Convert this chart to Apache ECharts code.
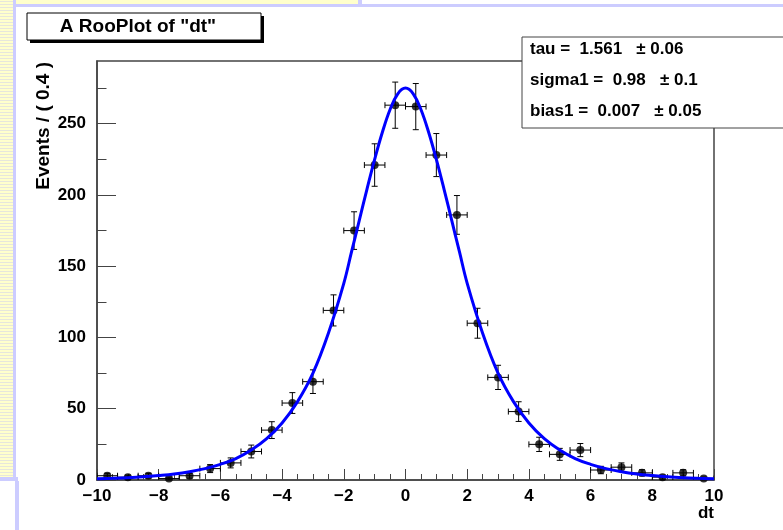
<!DOCTYPE html>
<html>
<head>
<meta charset="utf-8">
<script src="https://cdn.jsdelivr.net/npm/echarts@6/dist/echarts.min.js"></script>
<style>
  html, body { margin: 0; padding: 0; background: #fff; }
  #chart { width: 783px; height: 530px; }
</style>
</head>
<body>
<div id="chart"></div>
<script>
// bins of dt (centres), event counts and their errors
const binCenters = [-9.667, -9, -8.333, -7.667, -7, -6.333, -5.667, -5, -4.333, -3.667,
  -3, -2.333, -1.667, -1, -0.333, 0.333, 1, 1.667, 2.333, 3,
  3.667, 4.333, 5, 5.667, 6.333, 7, 7.667, 8.333, 9, 9.667];
const counts = [3, 2, 3, 1, 3, 8, 12, 20, 35, 54,
  69, 119, 175, 221, 263, 262, 228, 186, 110, 72,
  48, 25, 18, 21, 7, 9, 5, 2, 5, 1];
const countErr = [1.7, 1.4, 1.7, 1, 1.7, 2.8, 3.5, 4.5, 5.9, 7.3,
  8.3, 10.9, 13.2, 14.9, 16.2, 16.2, 15.1, 13.6, 10.5, 8.5,
  6.9, 5, 4.2, 4.6, 2.6, 3, 2.2, 1.4, 2.2, 1];
const binHalfWidth = 0.333;

// fitted curve
const curveX = [-10, -9.5, -9, -8.5, -8, -7.5, -7, -6.5, -6, -5.5, -5, -4.5, -4, -3.5, -3, -2.5,
  -2, -1.75, -1.5, -1.25, -1, -0.75, -0.5, -0.25, 0, 0.25, 0.5, 0.75, 1, 1.25, 1.5, 1.75,
  2, 2.5, 3, 3.5, 4, 4.5, 5, 5.5, 6, 6.5, 7, 7.5, 8, 8.5, 9, 9.5, 10];
const curveY = [0.9, 1.2, 1.6, 2.2, 3.1, 4.2, 5.8, 8, 11, 15, 21, 29, 40, 55, 75, 103,
  138, 160, 182, 204, 225, 244, 260, 271, 275, 271, 260, 244, 225, 204, 182, 160,
  138, 103, 75, 55, 40, 29, 21, 15, 11, 8, 5.8, 4.2, 3.1, 2.2, 1.6, 1.2, 0.9];

const yMajor = [0, 50, 100, 150, 200, 250];
const yMinor = [25, 75, 125, 175, 225, 275];

const statLines = ['tau =  1.561   \u00b1 0.06', 'sigma1 =  0.98   \u00b1 0.1', 'bias1 =  0.007   \u00b1 0.05'];

const font = 'Liberation Sans';
const axisGray = '#444';
const yellow = '#ffffcc';
const lavender = '#ccccff';

let chart = echarts.init(document.getElementById('chart'));

// page decoration around the plot (yellow lined strip, lavender rules)
let decor = [
  {type: 'rect', shape: {x: 0, y: 0, width: 13, height: 477}, style: {fill: yellow}},
  {type: 'rect', shape: {x: 13, y: 0, width: 345, height: 4}, style: {fill: yellow}},
  {type: 'rect', shape: {x: 13, y: 4, width: 770, height: 3}, style: {fill: lavender}},
  {type: 'rect', shape: {x: 358, y: 0, width: 4, height: 7}, style: {fill: lavender}},
  {type: 'rect', shape: {x: 13, y: 0, width: 3, height: 480}, style: {fill: lavender}},
  {type: 'rect', shape: {x: 0, y: 477, width: 18, height: 4}, style: {fill: lavender}},
  {type: 'rect', shape: {x: 15, y: 481, width: 4, height: 49}, style: {fill: lavender}}
];
for (let y = 1; y < 477; y += 3) {
  decor.push({type: 'rect', shape: {x: 0, y: y, width: 13, height: 1}, style: {fill: '#e6e6dc'}});
}

let option = {
  animation: false,
  backgroundColor: '#fff',
  grid: {
    left: 97, right: 69, top: 61, bottom: 50,
    show: true, borderColor: axisGray, borderWidth: 1.5, backgroundColor: '#fff'
  },
  xAxis: {
    type: 'value', min: -10, max: 10, interval: 2,
    axisLine: {onZero: false, lineStyle: {color: axisGray, width: 1.5}},
    axisTick: {inside: true, length: 11, lineStyle: {color: axisGray}},
    minorTick: {show: true, splitNumber: 4, length: 6, lineStyle: {color: axisGray}},
    splitLine: {show: false},
    axisLabel: {
      margin: 8, fontSize: 17, fontWeight: 'bold', color: '#000', fontFamily: font,
      formatter: v => String(v).replace('-', '\u2212')
    }
  },
  yAxis: [
    {
      type: 'value', min: 0, max: 294, position: 'left',
      axisLine: {show: true, onZero: false, lineStyle: {color: axisGray, width: 1.5}},
      axisTick: {show: true, inside: true, length: 19, customValues: yMajor, lineStyle: {color: axisGray}},
      splitLine: {show: false},
      axisLabel: {
        margin: 11, fontSize: 17, fontWeight: 'bold', color: '#000', fontFamily: font,
        customValues: yMajor
      }
    },
    {
      type: 'value', min: 0, max: 294, position: 'left', offset: 0,
      axisLine: {show: false, onZero: false},
      axisTick: {show: true, inside: true, length: 9.5, customValues: yMinor, lineStyle: {color: axisGray}},
      splitLine: {show: false},
      axisLabel: {show: false}
    }
  ],
  series: [
    {
      type: 'custom',
      clip: true,
      z: 2,
      data: binCenters.map((x, i) => [x, counts[i], binHalfWidth, countErr[i]]),
      renderItem: function (params, api) {
        let x = api.value(0), y = api.value(1), ex = api.value(2), ey = api.value(3);
        let l = api.coord([x - ex, y]), r = api.coord([x + ex, y]);
        let lo = api.coord([x, y - ey]), hi = api.coord([x, y + ey]);
        let cap = 3;
        let st = {stroke: '#000', lineWidth: 1};
        return {
          type: 'group',
          children: [
            {type: 'line', shape: {x1: l[0], y1: l[1], x2: r[0], y2: r[1]}, style: st},
            {type: 'line', shape: {x1: l[0], y1: l[1] - cap, x2: l[0], y2: l[1] + cap}, style: st},
            {type: 'line', shape: {x1: r[0], y1: r[1] - cap, x2: r[0], y2: r[1] + cap}, style: st},
            {type: 'line', shape: {x1: lo[0], y1: lo[1], x2: hi[0], y2: hi[1]}, style: st},
            {type: 'line', shape: {x1: lo[0] - cap, y1: lo[1], x2: lo[0] + cap, y2: lo[1]}, style: st},
            {type: 'line', shape: {x1: hi[0] - cap, y1: hi[1], x2: hi[0] + cap, y2: hi[1]}, style: st}
          ]
        };
      }
    },
    {
      type: 'scatter',
      z: 3,
      symbolSize: 8,
      itemStyle: {color: '#000'},
      data: binCenters.map((x, i) => [x, counts[i]])
    },
    {
      type: 'line',
      z: 4,
      smooth: 0.4,
      showSymbol: false,
      lineStyle: {color: '#0000ff', width: 3},
      data: curveX.map((x, i) => [x, curveY[i]])
    }
  ],
  graphic: decor.concat([
    // title box with shadow
    {type: 'rect', z: 100, shape: {x: 30, y: 16, width: 234, height: 27}, style: {fill: '#000'}},
    {type: 'rect', z: 101, shape: {x: 27, y: 13, width: 234, height: 27}, style: {fill: '#fff', stroke: '#000', lineWidth: 1}},
    {type: 'text', z: 102, x: 138, y: 27, style: {
      text: 'A RooPlot of "dt"', font: 'bold 19px "Liberation Sans"', fill: '#000',
      align: 'center', verticalAlign: 'middle'}},
    // parameter box
    {type: 'rect', z: 100, shape: {x: 522, y: 37, width: 270, height: 91}, style: {fill: '#fff', stroke: axisGray, lineWidth: 1}},
    {type: 'text', z: 101, x: 530, y: 49, style: {text: statLines[0], font: 'bold 17px "Liberation Sans"', fill: '#000', verticalAlign: 'middle'}},
    {type: 'text', z: 101, x: 530, y: 80, style: {text: statLines[1], font: 'bold 17px "Liberation Sans"', fill: '#000', verticalAlign: 'middle'}},
    {type: 'text', z: 101, x: 530, y: 111, style: {text: statLines[2], font: 'bold 17px "Liberation Sans"', fill: '#000', verticalAlign: 'middle'}},
    // axis titles
    {type: 'text', z: 101, x: 44, y: 62, rotation: Math.PI / 2, style: {
      text: 'Events / ( 0.4 )', font: 'bold 19px "Liberation Sans"', fill: '#000',
      align: 'right', verticalAlign: 'middle'}},
    {type: 'text', z: 101, x: 714, y: 513, style: {
      text: 'dt', font: 'bold 17px "Liberation Sans"', fill: '#000',
      align: 'right', verticalAlign: 'middle'}}
  ])
};

chart.setOption(option);
</script>
</body>
</html>
